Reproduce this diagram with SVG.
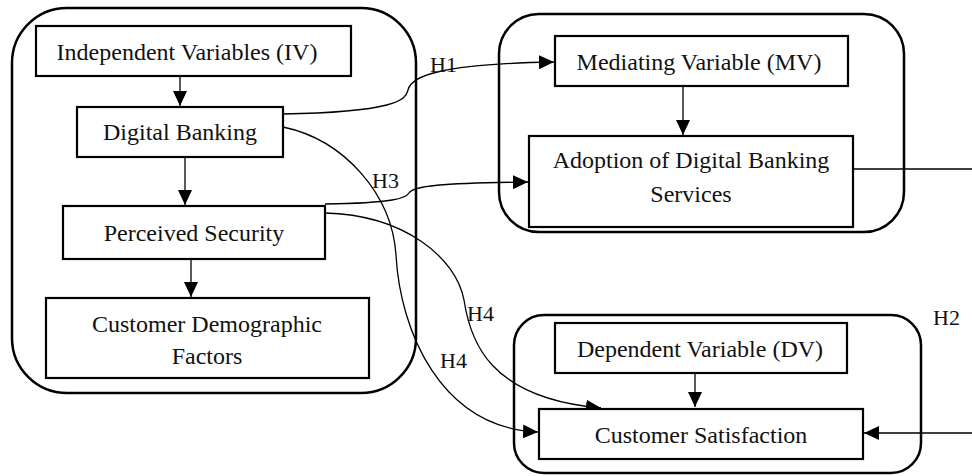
<svg xmlns="http://www.w3.org/2000/svg" width="972" height="476" viewBox="0 0 972 476">
<style>
.cont{fill:none;stroke:#000;stroke-width:2.5}
.box{fill:#fff;stroke:#000;stroke-width:2.2}
.t{font-family:"Liberation Serif","Times New Roman",serif;font-size:24px;fill:#111;text-anchor:middle}
.lbl{font-family:"Liberation Serif","Times New Roman",serif;font-size:22px;fill:#111}
.c{fill:none;stroke:#000;stroke-width:1.3}
.a{marker-end:url(#ah)}
</style>
<defs>
<marker id="ah" markerUnits="userSpaceOnUse" markerWidth="16" markerHeight="14" refX="15" refY="7" orient="auto">
<path d="M0,0 L15,7 L0,14 Z" fill="#000"/>
</marker>
</defs>
<g id="containers">
<rect class="cont" x="12" y="8" width="404" height="385" rx="55" ry="55"/>
<rect class="cont" x="499" y="14" width="405" height="218" rx="40" ry="40"/>
<rect class="cont" x="514" y="315" width="407" height="158" rx="30" ry="30"/>
</g>
<g id="connectors">
<path class="c a" d="M180,76 V106"/>
<path class="c a" d="M185,157 V205"/>
<path class="c a" d="M191,259 V297"/>
<path class="c a" d="M683,86 V135"/>
<path class="c a" d="M695,373 V407"/>
<path class="c a" d="M283,114 C395,112 406,100 408,90 C411,76 440,64 554,62"/>
<path class="c a" d="M325,204 C395,203 406,198 409,193 C413,186 440,183 528,182"/>
<path class="c a" d="M283,127 C345,140 392,195 396,255 C400,330 440,428 538,432"/>
<path class="c a" d="M325,213 C405,215 456,258 464,300 C470,340 488,398 601,408"/>
<path class="c a" d="M853,169 H990 V433 H864"/>
</g>
<g id="labels">
<text class="lbl" x="430" y="72">H1</text>
<text class="lbl" x="372" y="188">H3</text>
<text class="lbl" x="467" y="321">H4</text>
<text class="lbl" x="440" y="368">H4</text>
<text class="lbl" x="933" y="325">H2</text>
</g>
<g id="iv">
<rect class="box" x="36" y="26" width="315" height="50"/>
<text class="t" x="187" y="60">Independent Variables (IV)</text>
</g>
<g id="digital-banking">
<rect class="box" x="77" y="107" width="206" height="50"/>
<text class="t" x="180" y="140">Digital Banking</text>
</g>
<g id="perceived-security">
<rect class="box" x="63" y="206" width="262" height="53"/>
<text class="t" x="194" y="241">Perceived Security</text>
</g>
<g id="demographics">
<rect class="box" x="46" y="298" width="323" height="80"/>
<text class="t" x="207" y="332">Customer Demographic</text>
<text class="t" x="207" y="364">Factors</text>
</g>
<g id="mv">
<rect class="box" x="555" y="36" width="293" height="50"/>
<text class="t" x="699" y="70">Mediating Variable (MV)</text>
</g>
<g id="adoption">
<rect class="box" x="529" y="136" width="324" height="91"/>
<text class="t" x="691" y="168">Adoption of Digital Banking</text>
<text class="t" x="691" y="202">Services</text>
</g>
<g id="dv">
<rect class="box" x="555" y="323" width="292" height="50"/>
<text class="t" x="700" y="357">Dependent Variable (DV)</text>
</g>
<g id="satisfaction">
<rect class="box" x="539" y="409" width="324" height="50"/>
<text class="t" x="701" y="443">Customer Satisfaction</text>
</g>
</svg>
